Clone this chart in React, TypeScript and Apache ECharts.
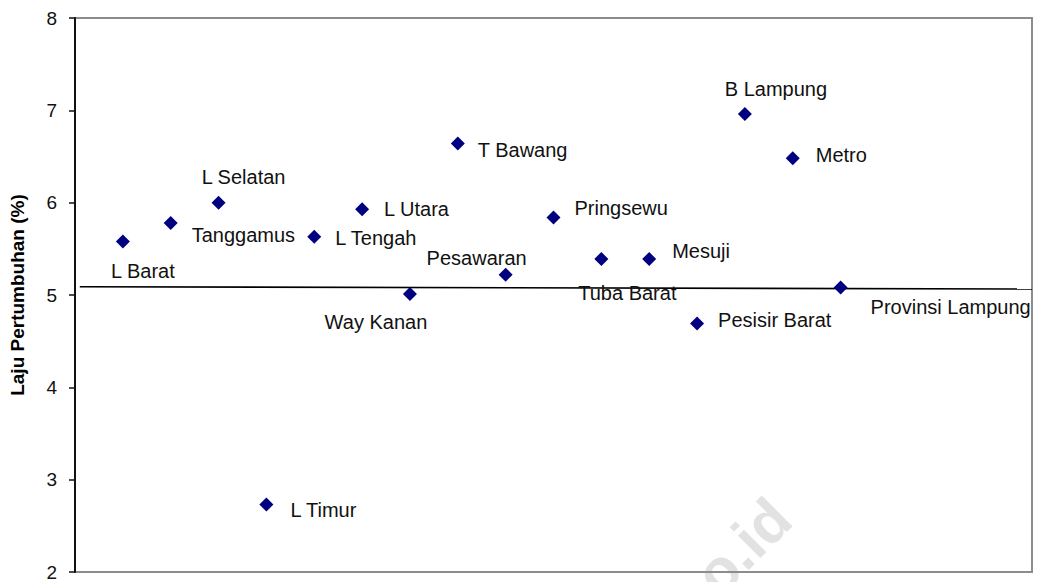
import React, { useEffect, useRef } from "react";
import * as echarts from "echarts";

// ---- data ----
const regions = [
  "L Barat", "Tanggamus", "L Selatan", "L Timur", "L Tengah", "L Utara",
  "Way Kanan", "T Bawang", "Pesawaran", "Pringsewu", "Tuba Barat", "Mesuji",
  "Pesisir Barat", "B Lampung", "Metro", "Provinsi Lampung",
];
const growth = [
  5.58, 5.78, 6.0, 2.73, 5.63, 5.93, 5.01, 6.64, 5.22, 5.84, 5.39, 5.39,
  4.69, 6.96, 6.48, 5.08,
];
const refLineX = [0.1, 20];
const refLineY = [5.09, 5.065];
const yTicks = [2, 3, 4, 5, 6, 7, 8];
const yTitle = "Laju Pertumbuhan (%)";
const watermark = "o.id";

// ---- label placement (style, not data): offset of label anchor from marker centre ----
const labelPlacement: [number, number, "left" | "center"][] = [
  [20, 30, "center"],
  [21, 12, "left"],
  [25, -26, "center"],
  [24, 5, "left"],
  [21, 1, "left"],
  [22, 0, "left"],
  [-34, 28, "center"],
  [20, 6, "left"],
  [-29, -17, "center"],
  [21, -9, "left"],
  [26, 34, "center"],
  [23, -8, "left"],
  [21, -4, "left"],
  [31, -25, "center"],
  [23, -3, "left"],
  [30, 19, "left"],
];

const FONT = "'Liberation Sans', Arial, sans-serif";
const SYMBOL = 14;

export default function App() {
  const ref = useRef<HTMLDivElement>(null);
  useEffect(() => {
    document.body.style.margin = "0";
    if (!ref.current) return;
    const chart = echarts.init(ref.current, undefined, { renderer: "svg" });
    const half = SYMBOL / 2;
    const points = regions.map((name, i) => ({
      name,
      value: [i + 1, growth[i]],
      label: {
        position: [half + labelPlacement[i][0], half + labelPlacement[i][1]],
        align: labelPlacement[i][2],
        verticalAlign: "middle",
      },
    }));
    chart.setOption({
      animation: false,
      backgroundColor: "#ffffff",
      grid: {
        left: 75,
        right: 9,
        top: 18,
        bottom: 10,
        show: true,
        borderColor: "#8c8c8c",
        borderWidth: 2,
        backgroundColor: "transparent",
        containLabel: false,
        outerBoundsMode: "none",
      },
      graphic: [
        {
          type: "text",
          x: 802,
          y: 530,
          rotation: Math.PI / 4,
          z: -1,
          silent: true,
          style: {
            text: watermark,
            fill: "#e2e2e2",
            font: `bold 60px ${FONT}`,
            textAlign: "right",
            textVerticalAlign: "bottom",
          },
        },
      ],
      xAxis: {
        type: "value",
        min: 0,
        max: 20,
        show: false,
        splitLine: { show: false },
      },
      yAxis: {
        type: "value",
        min: yTicks[0],
        max: yTicks[yTicks.length - 1],
        interval: 1,
        name: yTitle,
        nameLocation: "middle",
        nameRotate: 90,
        nameGap: 48,
        nameTextStyle: {
          fontFamily: FONT,
          fontSize: 19,
          fontWeight: "bold",
          color: "#000",
        },
        axisLine: { show: true, lineStyle: { color: "#111", width: 2 } },
        axisTick: {
          show: true,
          inside: false,
          length: 6,
          lineStyle: { color: "#111", width: 1.5 },
        },
        axisLabel: {
          margin: 18,
          fontFamily: FONT,
          fontSize: 19,
          color: "#111",
        },
        splitLine: { show: false },
      },
      series: [
        {
          type: "line",
          data: refLineX.map((x, i) => [x, refLineY[i]]),
          symbol: "none",
          silent: true,
          clip: false,
          z: 1,
          lineStyle: { color: "#000", width: 1.6 },
        },
        {
          type: "scatter",
          data: points,
          symbol: "diamond",
          symbolSize: SYMBOL,
          z: 3,
          itemStyle: { color: "#000080", opacity: 1 },
          label: {
            show: true,
            formatter: "{b}",
            fontFamily: FONT,
            fontSize: 20,
            color: "#111",
          },
          labelLayout: { hideOverlap: false },
        },
      ],
    });
    return () => chart.dispose();
  }, []);
  return <div ref={ref} style={{ width: 1041, height: 582 }} />;
}
